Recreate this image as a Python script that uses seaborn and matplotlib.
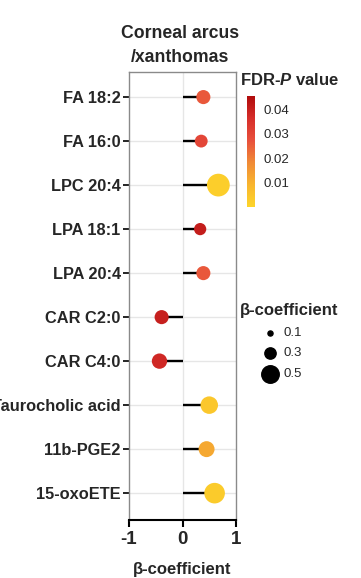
import numpy as np
import pandas as pd
import matplotlib
matplotlib.use("Agg")
import matplotlib.pyplot as plt
import matplotlib.colors as mcolors
from matplotlib.lines import Line2D
import seaborn as sns

# ---- data ----
metabolites = ["FA 18:2", "FA 16:0", "LPC 20:4", "LPA 18:1", "LPA 20:4",
               "CAR C2:0", "CAR C4:0", "Taurocholic acid", "11b-PGE2", "15-oxoETE"]
beta = [0.39, 0.35, 0.67, 0.33, 0.39, -0.39, -0.43, 0.50, 0.45, 0.60]
fdr_p = [0.026, 0.030, 0.002, 0.041, 0.026, 0.040, 0.038, 0.004, 0.012, 0.003]
x_ticks = [-1, 0, 1]
cbar_ticks = [0.01, 0.02, 0.03, 0.04]
size_legend_vals = [0.1, 0.3, 0.5]

sns.set_style("white")
plt.rcParams["font.family"] = ["Liberation Sans", "DejaVu Sans"]
plt.rcParams["mathtext.fontset"] = "custom"
plt.rcParams["mathtext.it"] = "Liberation Sans:italic:bold"
plt.rcParams["mathtext.rm"] = "Liberation Sans:bold"

DPI = 100
W, H = 361, 578
fig = plt.figure(figsize=(W / DPI, H / DPI), dpi=DPI)

def fx(px):
    return px / W

def fy(py):
    return 1 - py / H

ax = fig.add_axes([fx(129), fy(520), fx(236) - fx(129), fy(72) - fy(520)])

cmap = mcolors.LinearSegmentedColormap.from_list(
    "fdr", ["#FDD52A", "#F8B52E", "#F08A36", "#E8503C", "#D62E2A", "#B00C0C"])
norm = mcolors.Normalize(vmin=0, vmax=0.0455)

def diam_px(b):
    return 2.0 + 31.0 * abs(b)

def area_pt(b):
    return (diam_px(b) * 72.0 / DPI) ** 2

df = pd.DataFrame({"metabolite": metabolites, "beta": beta, "p": fdr_p})
df["ypos"] = np.arange(len(df))
df["area"] = [area_pt(b) for b in df["beta"]]

# grid lines
for y in df["ypos"]:
    ax.axhline(y, color="#e6e6e6", lw=1.0, zorder=0)
ax.axvline(0, color="#e6e6e6", lw=1.0, zorder=0)

# sticks
ax.hlines(df["ypos"], 0, df["beta"], color="black", lw=1.7, zorder=1)

amin, amax = df["area"].min(), df["area"].max()
sns.scatterplot(data=df, x="beta", y="ypos", hue="p", palette=cmap, hue_norm=norm,
                size="area", sizes=(amin, amax), size_norm=(amin, amax),
                edgecolor="none", linewidth=0, legend=False, ax=ax, zorder=2)

ax.set_xlim(-1, 1)
ax.set_ylim(9.61, -0.57)
ax.set_yticks(df["ypos"])
ax.set_yticklabels(metabolites, fontsize=11.8, fontweight="bold")
ax.set_xticks(x_ticks)
ax.set_xticklabels([str(t) for t in x_ticks], fontsize=13.5, fontweight="bold")
ax.tick_params(axis="y", length=4, width=1.2, color="black", pad=2, left=True)
ax.tick_params(axis="x", length=5, width=1.5, color="black", pad=3, bottom=True)
ax.set_xlabel("β-coefficient", fontsize=12, fontweight="bold", labelpad=10)
ax.set_ylabel("")

for s in ["left", "top", "right"]:
    ax.spines[s].set_color("#8a8a8a")
    ax.spines[s].set_linewidth(1.0)
ax.spines["bottom"].set_color("black")
ax.spines["bottom"].set_linewidth(1.5)

fig.text(fx(180), fy(33), "Corneal arcus", ha="center", va="center",
         fontsize=12.7, fontweight="bold")
fig.text(fx(180), fy(57), "/xanthomas", ha="center", va="center",
         fontsize=12.7, fontweight="bold")

# colorbar
cax = fig.add_axes([fx(247), fy(207), fx(8), fy(96) - fy(207)])
cb = matplotlib.colorbar.ColorbarBase(cax, cmap=cmap, norm=norm, ticks=cbar_ticks)
cb.outline.set_visible(False)
cax.set_yticklabels([f"{t:.2f}" for t in cbar_ticks], fontsize=9.5)
cax.tick_params(axis="y", length=3, width=1, color="white", direction="in", pad=6)
fig.text(fx(240), fy(80), "FDR-$P$ value", ha="left", va="center",
         fontsize=12, fontweight="bold")

# size legend
fig.text(fx(240), fy(310), "β-coefficient", ha="left", va="center",
         fontsize=12, fontweight="bold")
for v, py in zip(size_legend_vals, [333, 353, 374]):
    d = diam_px(v) * 72.0 / DPI
    fig.add_artist(Line2D([fx(270)], [fy(py)], marker="o", markersize=d,
                          color="black", linestyle="none", transform=fig.transFigure))
    fig.text(fx(283), fy(py), f"{v:.1f}", ha="left", va="center", fontsize=9.5)

fig.savefig("out.png", dpi=DPI)
